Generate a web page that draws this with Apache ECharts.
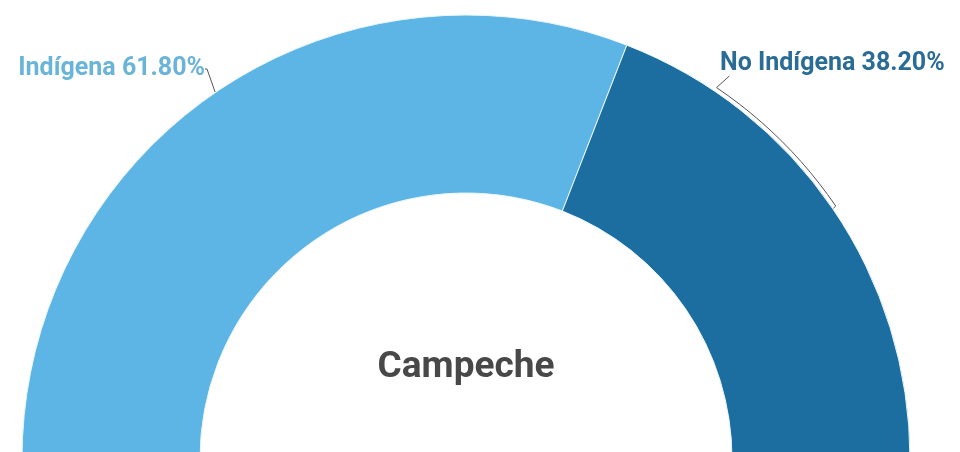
<!DOCTYPE html>
<html><head><meta charset="utf-8">
<script src="https://cdn.jsdelivr.net/npm/echarts@6/dist/echarts.min.js"></script>
<style>html,body{margin:0;padding:0;background:#fff}#c{width:960px;height:452px}</style>
</head><body><div id="c"></div>
<script>
const categories = ['Indígena', 'No Indígena'];
const values = [61.8, 38.2];
const sliceColors = ['#5DB5E5', '#1B6E9F'];
const labelColors = ['#6AB4D8', '#2A6C95'];
const centerTitle = 'Campeche';

const cx = 466, cy = 459, rIn = 266, rOut = 444;

const chart = echarts.init(document.getElementById('c'));
chart.setOption({
  animation: false,
  graphic: [{
    type: 'text', x: cx, y: 368,
    style: {text: centerTitle, textAlign: 'center', textVerticalAlign: 'middle',
      font: 'bold 37px Roboto', fill: '#484848'}
  }],
  series: [{
    type: 'pie',
    center: [cx, cy],
    radius: [rIn, rOut],
    startAngle: 180,
    endAngle: 0,
    clockwise: true,
    avoidLabelOverlap: false,
    itemStyle: {borderColor: '#eaf6fc', borderWidth: 1},
    label: {
      show: true,
      formatter: p => p.name + ' ' + p.value.toFixed(2) + '%',
      fontFamily: 'Roboto', fontSize: 25, fontWeight: 'bold'
    },
    labelLine: {show: true, length: 18, length2: 2, lineStyle: {color: '#555', width: 1}},
    labelLayout: function (p) {
      if (p.dataIndex === 1) {
        const a0 = (values[0] / 100) * Math.PI;
        const mid = Math.PI - (a0 + (values[1] / 100) * Math.PI / 2);
        const r = rOut + 4;
        const pts = [];
        const startA = mid;
        const endA = Math.PI / 180 * 56;
        pts.push([cx + rOut * Math.cos(startA) + 1, cy - rOut * Math.sin(startA)]);
        const n = 12;
        for (let i = 0; i <= n; i++) {
          const a = startA + (endA - startA) * i / n;
          pts.push([cx + r * Math.cos(a), cy - r * Math.sin(a)]);
        }
        pts.push([cx + (r + 14) * Math.cos(endA) + 5, cy - (r + 14) * Math.sin(endA)]);
        return {x: 720, y: 64, align: 'left', verticalAlign: 'middle', labelLinePoints: pts};
      }
      return {x: 205, y: 69, align: 'right', verticalAlign: 'middle'};
    },
    data: categories.map((c, i) => ({
      name: c, value: values[i],
      itemStyle: {color: sliceColors[i]},
      label: {color: labelColors[i]}
    }))
  }]
});
</script></body></html>
